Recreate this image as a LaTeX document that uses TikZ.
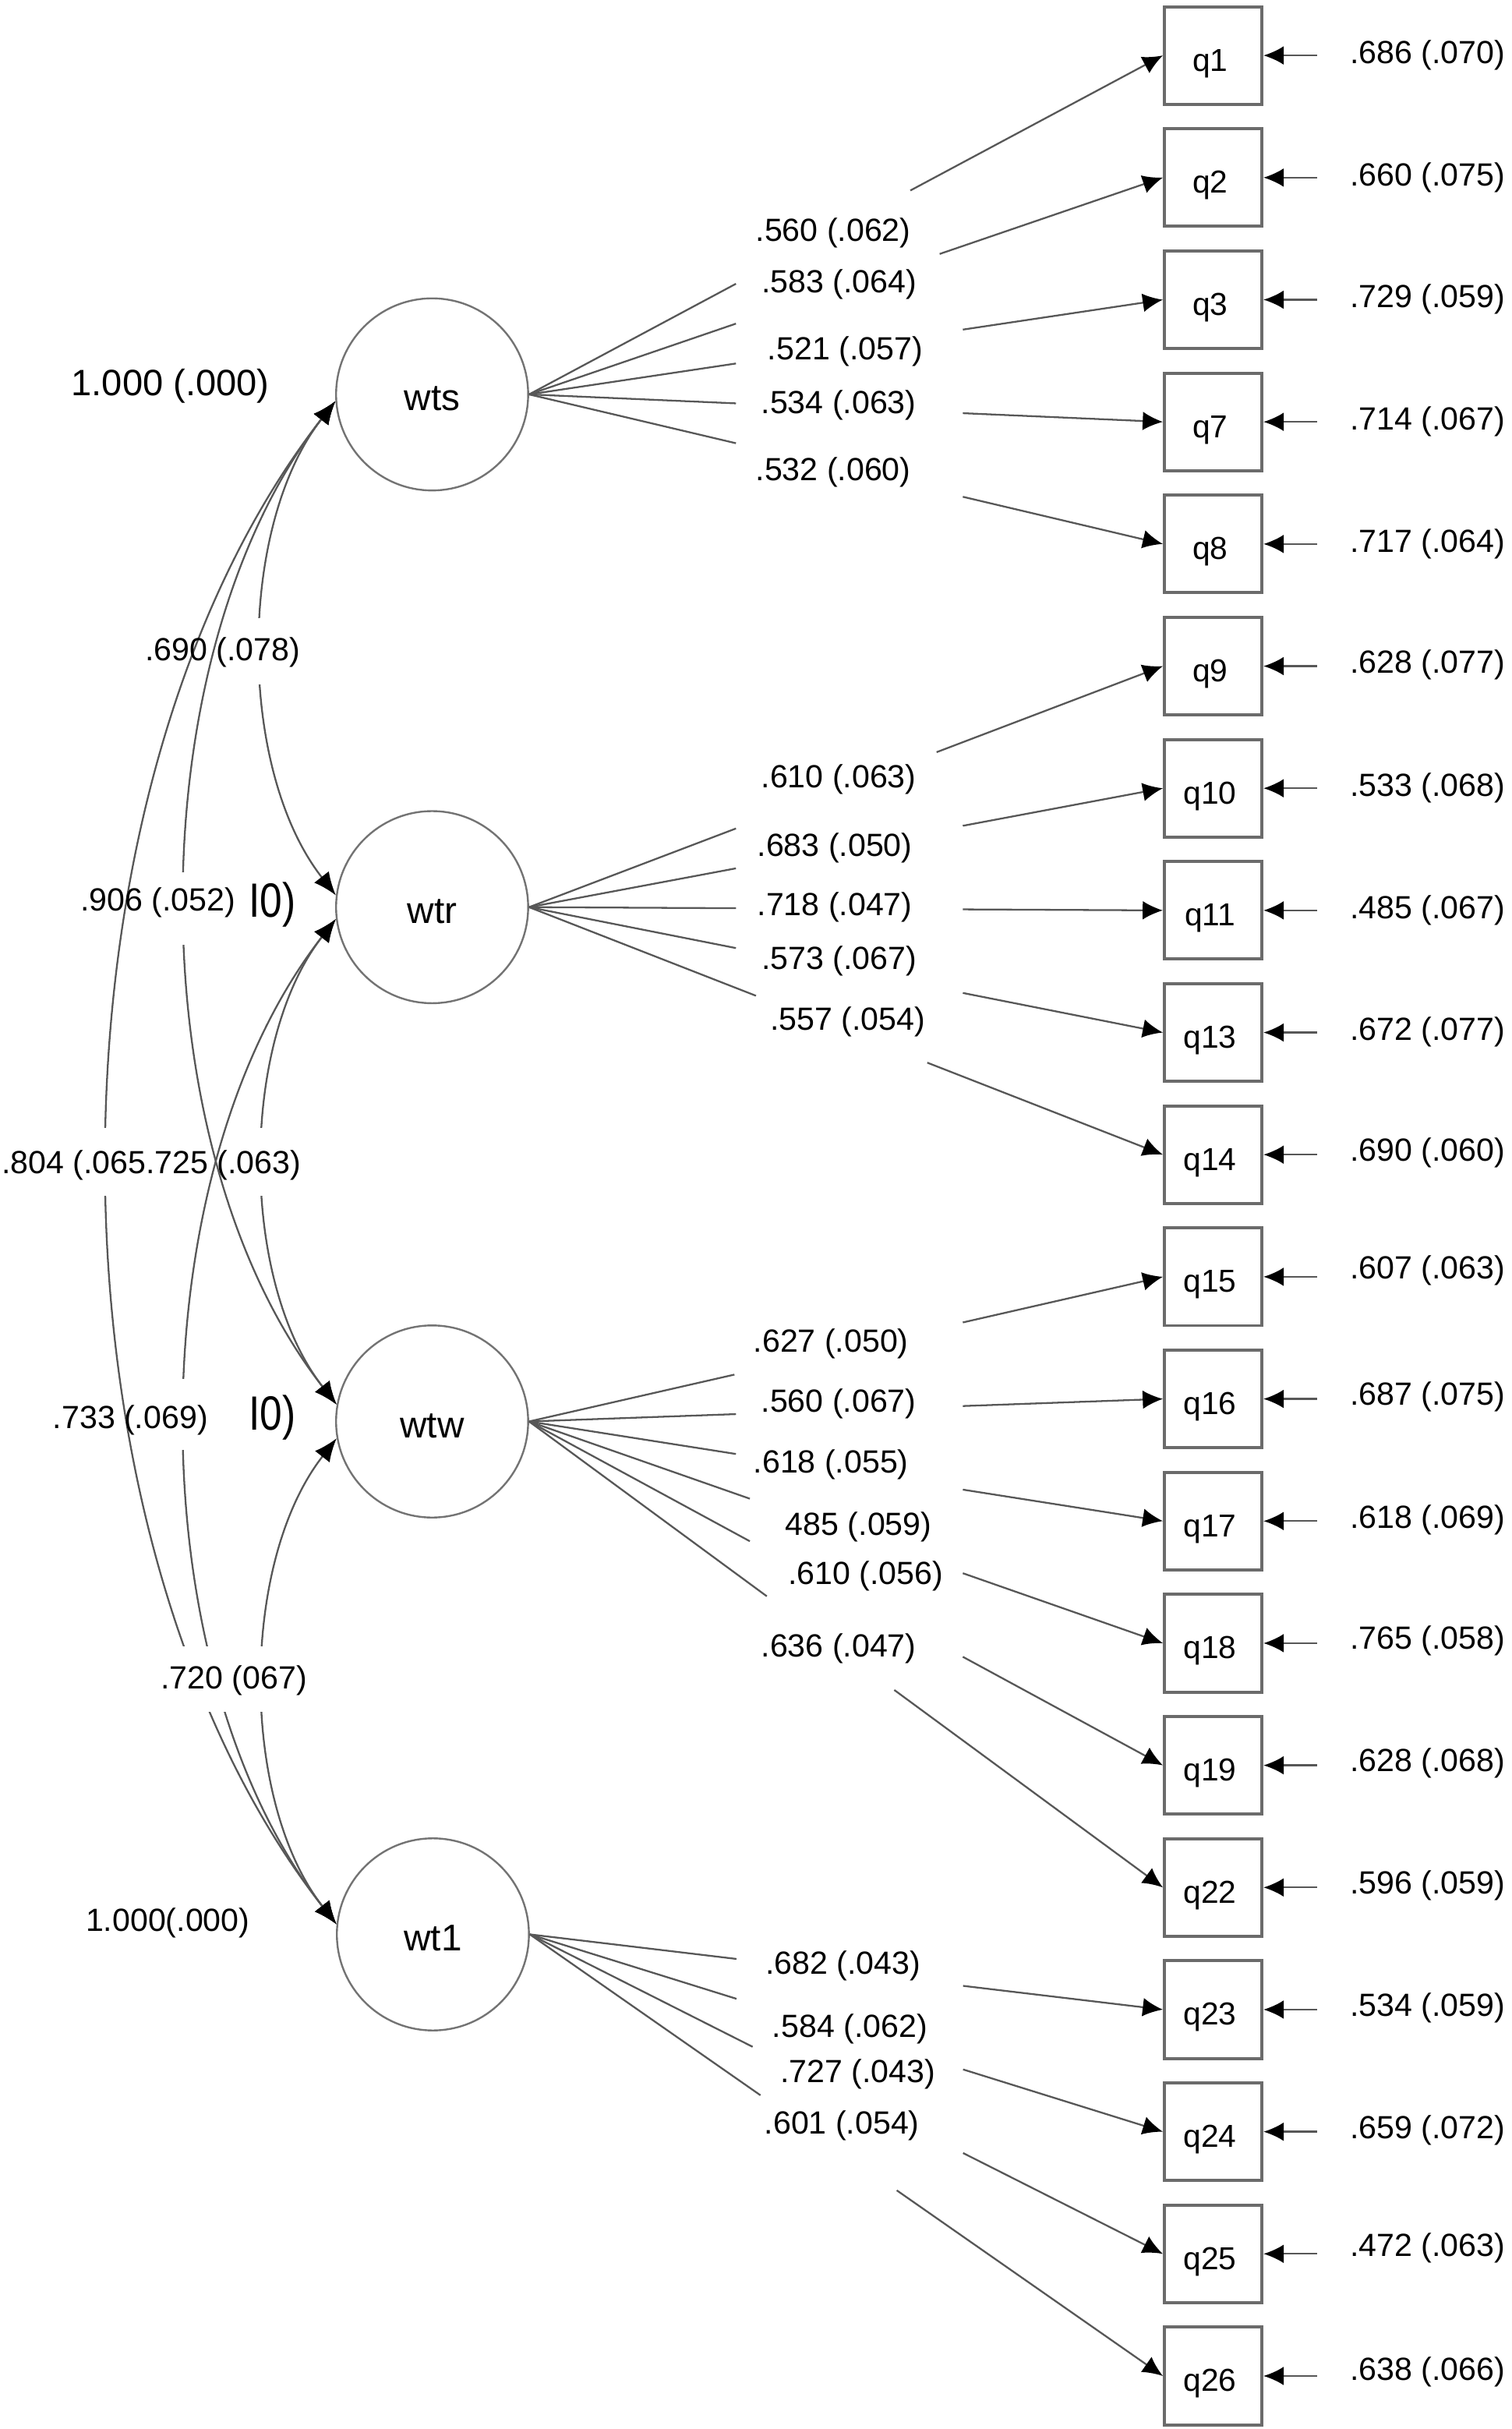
\documentclass[tikz,border=0pt]{standalone}
\usepackage{fontspec}
\setmainfont{Liberation Sans}
\usetikzlibrary{arrows.meta,calc}
\newcommand\loadarrow[4]{%
  \coordinate (#1#2a) at ($(#1.east)!#3!(#2.west)$);
  \coordinate (#1#2b) at ($(#1.east)!#4!(#2.west)$);
  \draw[ln] (#1.east) -- (#1#2a);
  \draw[ln,arr] (#1#2b) -- (#2.west);}
\begin{document}
\begin{tikzpicture}[x=1pt,y=1pt,
  ln/.style={draw=black!66,line width=1.15pt},
  arr/.style={-{Latex[length=13pt,width=12pt,color=black]}},
  darr/.style={{Latex[length=15pt,width=12pt,color=black]}-{Latex[length=15pt,width=12pt,color=black]}},
  latent/.style={circle,draw=black!55,line width=1.2pt,minimum size=124pt,inner sep=0pt,
    text height=21pt,text depth=0pt,font=\fontsize{24}{28}\selectfont},
  ind/.style={rectangle,draw=black!58,line width=2pt,minimum size=63pt,inner sep=0pt,
    text height=20pt,text depth=0pt,font=\fontsize{20.5}{24}\selectfont,
    execute at begin node={\kern-4pt}},
  lab/.style={inner sep=0pt,font=\fontsize{20.7}{24}\selectfont},
  corrarc/.style={bend right=38,looseness=0.83}
]
\useasboundingbox (0,0) rectangle (976,-1568);

% latent variables
\node[latent] (wts) at (279,-254.6) {wts};
\node[latent] (wtr) at (279,-585.6) {wtr};
\node[latent] (wtw) at (279,-917.6) {wtw};
\node[latent] (wt1) at (279.5,-1248.7) {wt1};

% indicators
\foreach \n [count=\k] in {1,2,3,7,8,9,10,11,13,14,15,16,17,18,19,22,23,24,25,26}
  \node[ind] (q\n) at (783.3,{-(35.8+78.84*(\k-1))}) {q\n};

% residuals
\foreach \n/\v/\d in {1/{.686 (.070)}/0,2/{.660 (.075)}/0,3/{.729 (.059)}/0.5,7/{.714 (.067)}/0.3,
  8/{.717 (.064)}/0.2,9/{.628 (.077)}/1,10/{.533 (.068)}/0,11/{.485 (.067)}/0,13/{.672 (.077)}/0.5,
  14/{.690 (.060)}/1.4,15/{.607 (.063)}/4.2,16/{.687 (.075)}/1.5,17/{.618 (.069)}/0.9,18/{.765 (.058)}/1.8,
  19/{.628 (.068)}/1.6,22/{.596 (.059)}/1.4,23/{.534 (.059)}/1.3,24/{.659 (.072)}/1.1,25/{.472 (.063)}/4,
  26/{.638 (.066)}/2.8}{
  \coordinate (e\n) at ($(q\n.center)+(67,0)$);
  \draw[ln,arr] (e\n) -- (q\n.east);
  \node[lab] (r\n) at ($(q\n.center)+(138.5,\d)$) {\v};
}

% loadings
\loadarrow{wts}{q1}{0.3264}{0.6016}
\loadarrow{wts}{q2}{0.3264}{0.6478}
\loadarrow{wts}{q3}{0.3264}{0.6844}
\loadarrow{wts}{q7}{0.3264}{0.6844}
\loadarrow{wts}{q8}{0.3264}{0.6844}
\loadarrow{wtr}{q9}{0.3264}{0.6430}
\loadarrow{wtr}{q10}{0.3264}{0.6844}
\loadarrow{wtr}{q11}{0.3264}{0.6844}
\loadarrow{wtr}{q13}{0.3264}{0.6844}
\loadarrow{wtr}{q14}{0.358}{0.6283}
\loadarrow{wtw}{q15}{0.324}{0.6844}
\loadarrow{wtw}{q16}{0.3264}{0.6844}
\loadarrow{wtw}{q17}{0.3264}{0.6844}
\loadarrow{wtw}{q18}{0.3483}{0.6844}
\loadarrow{wtw}{q19}{0.3483}{0.6844}
\loadarrow{wtw}{q22}{0.3751}{0.5762}
\loadarrow{wt1}{q23}{0.3264}{0.6844}
\loadarrow{wt1}{q24}{0.3264}{0.6844}
\loadarrow{wt1}{q25}{0.3519}{0.6844}
\loadarrow{wt1}{q26}{0.3643}{0.5796}

\node[lab] (l1) at (538,-150.3) {.560 (.062)};
\node[lab] (l2) at (541.8,-183.4) {.583 (.064)};
\node[lab] (l3) at (545.7,-226.7) {.521 (.057)};
\node[lab] (l4) at (541.5,-261.4) {.534 (.063)};
\node[lab] (l5) at (538,-304.7) {.532 (.060)};
\node[lab] (l6) at (541.5,-503.2) {.610 (.063)};
\node[lab] (l7) at (539,-547.5) {.683 (.050)};
\node[lab] (l8) at (539,-585.6) {.718 (.047)};
\node[lab] (l9) at (541.8,-620.6) {.573 (.067)};
\node[lab] (l10) at (547.3,-659.7) {.557 (.054)};
\node[lab] (l11) at (536.5,-867.6) {.627 (.050)};
\node[lab] (l12) at (541.5,-906.1) {.560 (.067)};
\node[lab] (l13) at (536.5,-945.6) {.618 (.055)};
\node[lab] (l14) at (554.4,-985.6) {485 (.059)};
\node[lab] (l15) at (558.8,-1017.6) {.610 (.056)};
\node[lab] (l16) at (541.5,-1064) {.636 (.047)};
\node[lab] (l17) at (544.3,-1269.2) {.682 (.043)};
\node[lab] (l18) at (548.7,-1309.6) {.584 (.062)};
\node[lab] (l19) at (553.9,-1339.2) {.727 (.043)};
\node[lab] (l20) at (543.6,-1372.4) {.601 (.054)};

% correlations
\draw[ln,darr] (wts.184) to[corrarc] (wtr.173);
\draw[ln,darr] (wts.184) to[corrarc] (wtw.170);
\draw[ln,darr] (wts.184) to[corrarc] (wt1.174);
\draw[ln,darr] (wtr.187) to[corrarc] (wtw.170);
\draw[ln,darr] (wtr.187) to[corrarc] (wt1.174);
\draw[ln,darr] (wtw.190) to[corrarc] (wt1.174);

% gaps behind labels
\fill[white] (150,-399) rectangle (200,-442);
\fill[white] (100,-563) rectangle (140,-610);
\fill[white] (52,-728) rectangle (88,-772);
\fill[white] (150,-728) rectangle (186,-772);
\fill[white] (100,-890) rectangle (140,-936);
\fill[white] (100,-1063) rectangle (218,-1105);

\node[lab] (c1) at (143.7,-421.3) {.690 (.078)};
\node[lab] (c2) at (102,-582.5) {.906 (.052)};
\node[lab] (c3) at (97.7,-752.4) {.804 (.065.725 (.063)};
\node[lab] (c4) at (84.2,-917) {.733 (.069)};
\node[lab] (c5) at (151,-1085) {.720 (067)};
\node[lab,font=\fontsize{23.7}{28}\selectfont] (v1) at (110,-249) {1.000 (.000)};
\node[lab] (v4) at (108.3,-1241.3) {1.000(.000)};
\node[lab] (i1) at (175.7,-583.9) {\scalebox{1.25}[1.5]{I0)}};
\node[lab] (i2) at (175.7,-915) {\scalebox{1.25}[1.5]{I0)}};
\end{tikzpicture}
\end{document}
